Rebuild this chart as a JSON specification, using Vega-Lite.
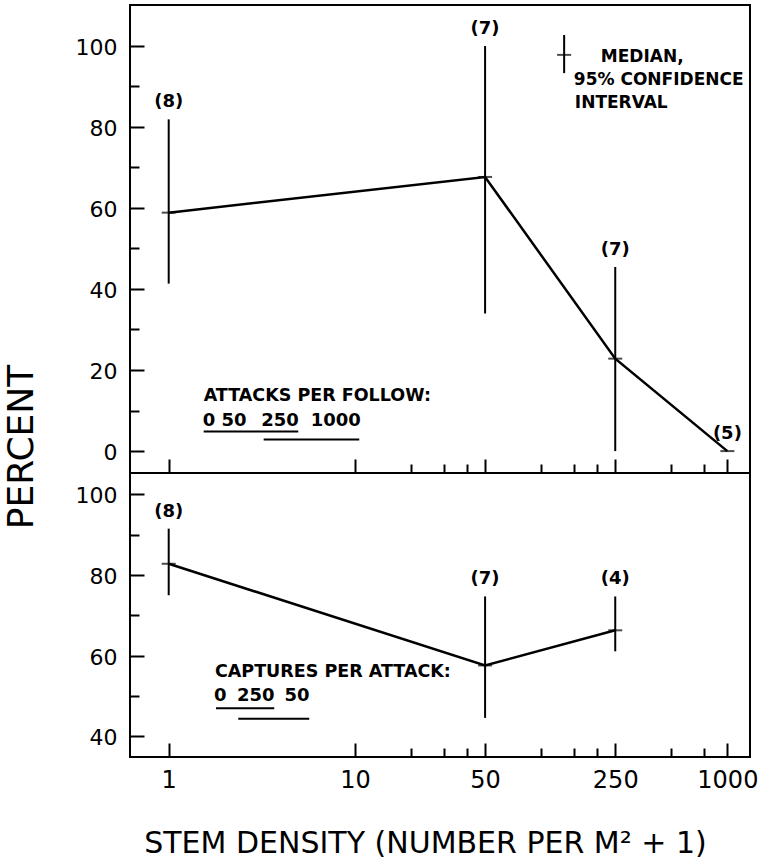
{
  "$schema": "https://vega.github.io/schema/vega-lite/v6.json",
  "padding": {"left": 2, "top": 4, "right": 5, "bottom": 5},
  "background": "white",
  "spacing": 0,
  "bounds": "flush",
  "config": {
    "view": {"stroke": "black", "strokeWidth": 2},
    "font": "DejaVu Sans",
    "axis": {"domain": false, "grid": false, "tickColor": "black", "tickWidth": 2, "labelColor": "black", "titleColor": "black", "labelFont": "DejaVu Sans", "titleFont": "DejaVu Sans", "titleFontWeight": "normal", "labelOverlap": false},
    "text": {"font": "DejaVu Sans", "color": "black"}
  },
  "datasets": {
    "follow": [
      {"density": 1, "median": 58.8, "lo": 41.3, "hi": 81.8, "n": "(8)"},
      {"density": 50, "median": 67.6, "lo": 33.9, "hi": 99.9, "n": "(7)"},
      {"density": 250, "median": 22.8, "lo": 0, "hi": 45.4, "n": "(7)"},
      {"density": 1000, "median": 0, "lo": 0, "hi": 0, "n": "(5)"}
    ],
    "attack": [
      {"density": 1, "median": 82.8, "lo": 75, "hi": 91.5, "n": "(8)"},
      {"density": 50, "median": 57.6, "lo": 44.6, "hi": 74.7, "n": "(7)"},
      {"density": 250, "median": 66.3, "lo": 61.1, "hi": 74.7, "n": "(4)"}
    ],
    "legendSample": [
      {"density": 132.9, "median": 97.7, "lo": 93.2, "hi": 102.6}
    ],
    "legendText": [
      {"density": 209.2, "y": 96.05, "text": "MEDIAN,"},
      {"density": 149.8, "y": 90.3, "text": "95% CONFIDENCE"},
      {"density": 151.7, "y": 84.5, "text": "INTERVAL"}
    ],
    "topHeading": [
      {"density": 1.541, "y": 12.35, "text": "ATTACKS PER FOLLOW:"}
    ],
    "topGroups": [
      {"density": 1.645, "y": 6.1, "text": "0"},
      {"density": 2.242, "y": 6.1, "text": "50"},
      {"density": 3.957, "y": 6.1, "text": "250"},
      {"density": 7.889, "y": 6.1, "text": "1000"}
    ],
    "topLines": [
      {"from": 1.541, "to": 4.962, "y": 4.86},
      {"from": 3.236, "to": 10.55, "y": 2.89}
    ],
    "bottomHeading": [
      {"density": 1.772, "y": 54.7, "text": "CAPTURES PER ATTACK:"}
    ],
    "bottomGroups": [
      {"density": 1.892, "y": 48.9, "text": "0"},
      {"density": 2.935, "y": 48.9, "text": "250"},
      {"density": 4.884, "y": 48.9, "text": "50"}
    ],
    "bottomLines": [
      {"from": 1.794, "to": 3.688, "y": 47.0},
      {"from": 2.364, "to": 5.685, "y": 44.4}
    ]
  },
  "vconcat": [
    {
      "width": 620,
      "height": 468,
      "layer": [
        {
          "data": {"name": "follow"},
          "mark": {"type": "rule", "strokeWidth": 2, "color": "black"},
          "encoding": {
            "x": {"field": "density", "type": "quantitative",
              "scale": {"type": "log", "domain": [0.6197, 1323], "nice": false},
              "axis": {"orient": "bottom", "values": [1, 10, 50, 250, 1000], "tickSize": -14, "labels": false, "title": null}},
            "y": {"field": "lo", "type": "quantitative",
              "scale": {"domain": [-5.4, 110], "nice": false, "zero": false},
              "axis": {"orient": "left", "values": [0, 20, 40, 60, 80, 100], "tickSize": -14, "labelPadding": 27, "labelFontSize": 22, "labelOffset": 1.5,
                "title": "PERCENT", "titleFontSize": 36, "titleX": -109, "titleY": 441.5, "titleAngle": 270, "titleAlign": "center", "titleBaseline": "middle"}},
            "y2": {"field": "hi"}
          }
        },
        {
          "data": {"name": "follow"},
          "mark": {"type": "line", "strokeWidth": 2.5, "color": "black"},
          "encoding": {
            "x": {"field": "density", "type": "quantitative",
              "axis": {"orient": "bottom", "values": [20, 30, 40, 100, 150, 200, 500, 750], "tickSize": -9, "labels": false, "title": null}},
            "y": {"field": "median", "type": "quantitative",
              "axis": {"orient": "left", "values": [10, 30, 50, 70, 90], "tickSize": -9, "labels": false, "title": null}}
          }
        },
        {
          "data": {"name": "follow"},
          "mark": {"type": "tick", "orient": "horizontal", "size": 14, "thickness": 2, "color": "black"},
          "encoding": {
            "x": {"field": "density", "type": "quantitative", "axis": null},
            "y": {"field": "median", "type": "quantitative", "axis": null}
          }
        },
        {
          "data": {"name": "follow"},
          "mark": {"type": "text", "fontSize": 18, "fontWeight": "bold", "dy": -17, "baseline": "middle", "align": "center"},
          "encoding": {
            "x": {"field": "density", "type": "quantitative", "axis": null},
            "y": {"field": "hi", "type": "quantitative", "axis": null},
            "text": {"field": "n"}
          }
        },
        {
          "data": {"name": "legendSample"},
          "mark": {"type": "rule", "strokeWidth": 2, "color": "black"},
          "encoding": {
            "x": {"field": "density", "type": "quantitative", "axis": null},
            "y": {"field": "lo", "type": "quantitative", "axis": null},
            "y2": {"field": "hi"}
          }
        },
        {
          "data": {"name": "legendSample"},
          "mark": {"type": "tick", "orient": "horizontal", "size": 14, "thickness": 2, "color": "black"},
          "encoding": {
            "x": {"field": "density", "type": "quantitative", "axis": null},
            "y": {"field": "median", "type": "quantitative", "axis": null}
          }
        },
        {
          "data": {"name": "legendText"},
          "mark": {"type": "text", "fontSize": 17, "fontWeight": "bold", "align": "left", "baseline": "alphabetic"},
          "encoding": {
            "x": {"field": "density", "type": "quantitative", "axis": null},
            "y": {"field": "y", "type": "quantitative", "axis": null},
            "text": {"field": "text"}
          }
        },
        {
          "data": {"name": "topHeading"},
          "mark": {"type": "text", "fontSize": 17.5, "fontWeight": "bold", "align": "left", "baseline": "alphabetic"},
          "encoding": {
            "x": {"field": "density", "type": "quantitative", "axis": null},
            "y": {"field": "y", "type": "quantitative", "axis": null},
            "text": {"field": "text"}
          }
        },
        {
          "data": {"name": "topGroups"},
          "mark": {"type": "text", "fontSize": 18, "fontWeight": "bold", "align": "center", "baseline": "alphabetic"},
          "encoding": {
            "x": {"field": "density", "type": "quantitative", "axis": null},
            "y": {"field": "y", "type": "quantitative", "axis": null},
            "text": {"field": "text"}
          }
        },
        {
          "data": {"name": "topLines"},
          "mark": {"type": "rule", "strokeWidth": 2, "color": "black"},
          "encoding": {
            "x": {"field": "from", "type": "quantitative", "axis": null},
            "x2": {"field": "to"},
            "y": {"field": "y", "type": "quantitative", "axis": null}
          }
        }
      ],
      "resolve": {"axis": {"x": "independent", "y": "independent"}}
    },
    {
      "width": 620,
      "height": 284,
      "layer": [
        {
          "data": {"name": "attack"},
          "mark": {"type": "rule", "strokeWidth": 2, "color": "black"},
          "encoding": {
            "x": {"field": "density", "type": "quantitative",
              "scale": {"type": "log", "domain": [0.6197, 1323], "nice": false},
              "axis": {"orient": "bottom", "values": [1, 10, 50, 250, 1000], "format": "d", "tickSize": -14, "labelPadding": 25.8, "labelFontSize": 24,
                "title": "STEM DENSITY (NUMBER PER M² + 1)", "titleFontSize": 30, "titleX": 295, "titleY": 95, "titleAlign": "center", "titleBaseline": "alphabetic"}},
            "y": {"field": "lo", "type": "quantitative",
              "scale": {"domain": [34.9, 105.3], "nice": false, "zero": false},
              "axis": {"orient": "left", "values": [40, 60, 80, 100], "tickSize": -14, "labelPadding": 27, "labelFontSize": 22, "labelOffset": 1.5, "title": null}},
            "y2": {"field": "hi"}
          }
        },
        {
          "data": {"name": "attack"},
          "mark": {"type": "line", "strokeWidth": 2.5, "color": "black"},
          "encoding": {
            "x": {"field": "density", "type": "quantitative",
              "axis": {"orient": "bottom", "values": [20, 30, 40, 100, 150, 200, 500, 750], "tickSize": -9, "labels": false, "title": null}},
            "y": {"field": "median", "type": "quantitative",
              "axis": {"orient": "left", "values": [50, 70, 90], "tickSize": -9, "labels": false, "title": null}}
          }
        },
        {
          "data": {"name": "attack"},
          "mark": {"type": "tick", "orient": "horizontal", "size": 14, "thickness": 2, "color": "black"},
          "encoding": {
            "x": {"field": "density", "type": "quantitative", "axis": null},
            "y": {"field": "median", "type": "quantitative", "axis": null}
          }
        },
        {
          "data": {"name": "attack"},
          "mark": {"type": "text", "fontSize": 18, "fontWeight": "bold", "dy": -17, "baseline": "middle", "align": "center"},
          "encoding": {
            "x": {"field": "density", "type": "quantitative", "axis": null},
            "y": {"field": "hi", "type": "quantitative", "axis": null},
            "text": {"field": "n"}
          }
        },
        {
          "data": {"name": "bottomHeading"},
          "mark": {"type": "text", "fontSize": 17.5, "fontWeight": "bold", "align": "left", "baseline": "alphabetic"},
          "encoding": {
            "x": {"field": "density", "type": "quantitative", "axis": null},
            "y": {"field": "y", "type": "quantitative", "axis": null},
            "text": {"field": "text"}
          }
        },
        {
          "data": {"name": "bottomGroups"},
          "mark": {"type": "text", "fontSize": 18, "fontWeight": "bold", "align": "center", "baseline": "alphabetic"},
          "encoding": {
            "x": {"field": "density", "type": "quantitative", "axis": null},
            "y": {"field": "y", "type": "quantitative", "axis": null},
            "text": {"field": "text"}
          }
        },
        {
          "data": {"name": "bottomLines"},
          "mark": {"type": "rule", "strokeWidth": 2, "color": "black"},
          "encoding": {
            "x": {"field": "from", "type": "quantitative", "axis": null},
            "x2": {"field": "to"},
            "y": {"field": "y", "type": "quantitative", "axis": null}
          }
        }
      ],
      "resolve": {"axis": {"x": "independent", "y": "independent"}}
    }
  ]
}
